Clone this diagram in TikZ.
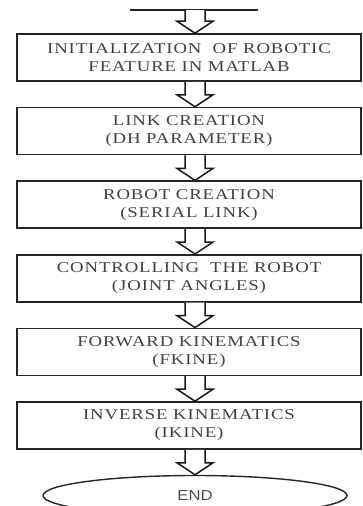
\documentclass[tikz,border=0pt]{standalone}
\usepackage{fontspec}
\setmainfont{Liberation Serif}
\newfontfamily\endfont[FakeStretch=1.15]{Liberation Sans}
\newfontfamily\stagefont[FakeStretch=1.25, LetterSpace=6]{Liberation Serif}
\usetikzlibrary{calc,positioning,shapes.geometric}
\tikzset{
  stage/.style={draw=black!85, line width=1.6pt, minimum width=344pt, minimum height=47pt,
    inner sep=0pt, align=center, text=black!75,
    font=\stagefont\fontsize{15}{18}\selectfont},
  endshape/.style={ellipse, draw=black!85, line width=1.4pt, minimum width=304pt,
    minimum height=40pt, inner sep=0pt, text=black!70, font=\endfont\fontsize{14.5}{16}\selectfont},
  hollow/.style={draw=black!90, line width=1.5pt, fill=white}
}
\def\hollowarrow(#1)(#2){
  \coordinate (s) at ($(#1.south)+(6,0)$);
  \coordinate (t) at (s |- #2.north);
  \draw[hollow] ($(s)+(-10,0)$) -- ($(t)+(-10,-12)$) -- ($(t)+(-18,-12)$) -- (t)
    -- ($(t)+(18,-12)$) -- ($(t)+(10,-12)$) -- ($(s)+(10,0)$);
}

\begin{document}
\begin{tikzpicture}[x=1pt, y=-1pt]
			%%%%% START %%%%%
			\useasboundingbox (0,0) rectangle (363,506);
			
			\node[inner sep=0pt, minimum size=0pt] (start) at (189,10) {};
			\draw[line width=1.8pt, black!85] (130,10) -- (258,10);
			
			\node[stage] (init) at (189,57.5) {INITIALIZATION\ \ OF ROBOTIC\\FEATURE IN MATLAB};
			\node[stage, below=25pt of init] (link) {LINK CREATION\\(DH PARAMETER)};
			\node[stage, below=25pt of link] (robot) {ROBOT CREATION\\(SERIAL LINK)};
			\node[stage, below=25pt of robot] (ctrl) {CONTROLLING\ \ THE ROBOT\\(JOINT ANGLES)};
			\node[stage, below=25pt of ctrl] (fk) {FORWARD KINEMATICS\\(FKINE)};
			\node[stage, below=25pt of fk] (ik) {INVERSE KINEMATICS\\(IKINE)};
			\node[endshape, below=25pt of ik, xshift=6pt] (end) {END};
			
			\foreach \a/\b in {start/init, init/link, link/robot, robot/ctrl, ctrl/fk, fk/ik, ik/end}
			  {\hollowarrow(\a)(\b)}
			
			%%%%% END %%%%%
\end{tikzpicture}
\end{document}
